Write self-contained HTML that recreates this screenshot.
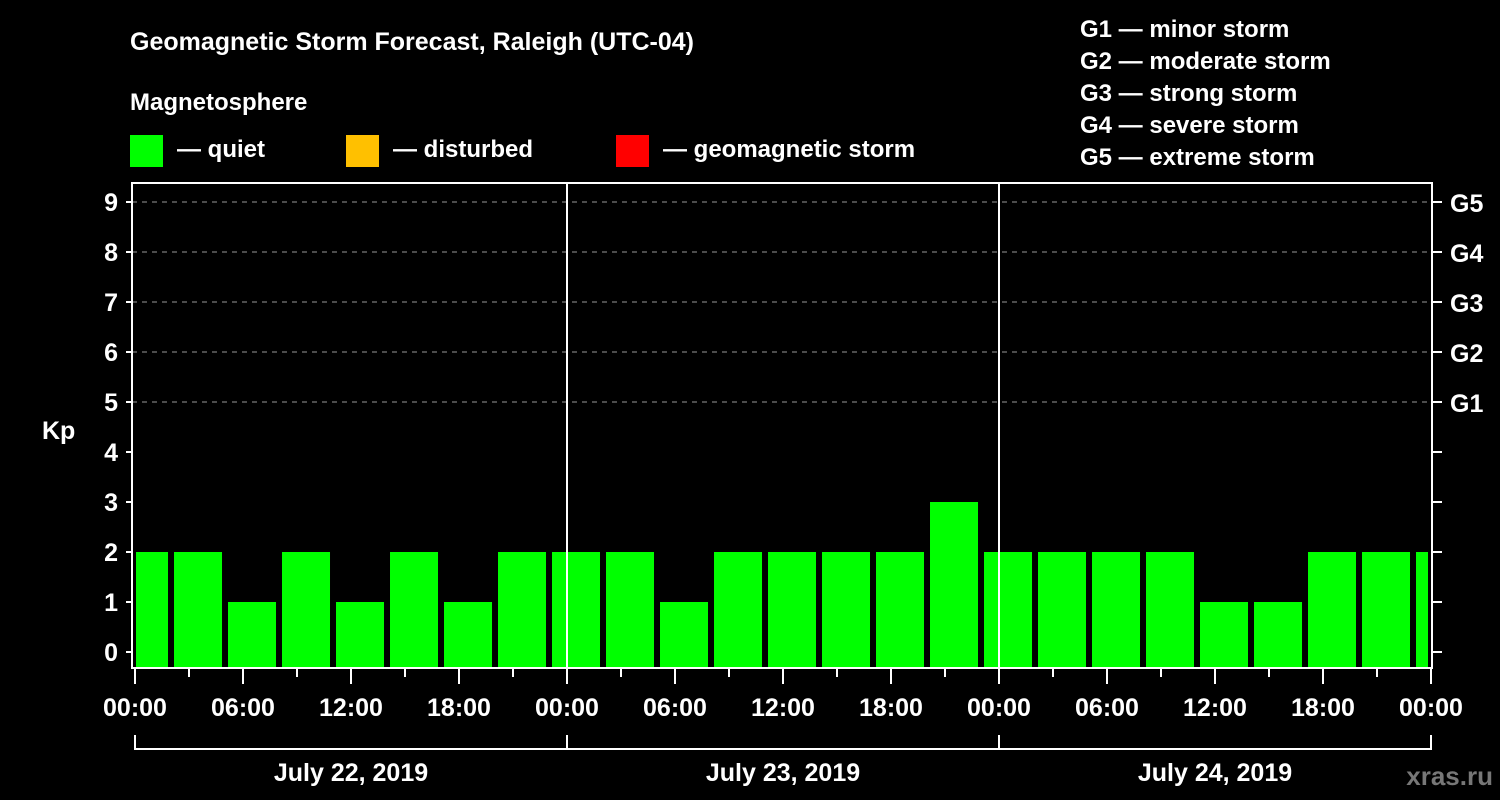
<!DOCTYPE html>
<html><head><meta charset="utf-8"><style>
html,body{margin:0;padding:0;background:#000;}
svg{display:block;font-family:"Liberation Sans",Arial,sans-serif;font-weight:bold;}
</style></head><body>
<svg width="1500" height="800" viewBox="0 0 1500 800">
<text x="130" y="50" fill="#fff" font-size="25">Geomagnetic Storm Forecast, Raleigh (UTC-04)</text>
<text x="130" y="110" fill="#fff" font-size="24">Magnetosphere</text>
<g><rect x="130" y="135" width="33" height="32" fill="#00ff00"/><text x="177" y="157" fill="#fff" font-size="24">— quiet</text></g>
<g><rect x="346" y="135" width="33" height="32" fill="#ffc000"/><text x="393" y="157" fill="#fff" font-size="24">— disturbed</text></g>
<g><rect x="616" y="135" width="33" height="32" fill="#ff0000"/><text x="663" y="157" fill="#fff" font-size="24">— geomagnetic storm</text></g>
<g fill="#fff" font-size="24">
<text x="1080" y="37">G1 — minor storm</text>
<text x="1080" y="69">G2 — moderate storm</text>
<text x="1080" y="101">G3 — strong storm</text>
<text x="1080" y="133">G4 — severe storm</text>
<text x="1080" y="165">G5 — extreme storm</text>
</g>
<text x="42" y="439" fill="#fff" font-size="25">Kp</text>
<text x="1493" y="785" fill="#777" font-size="26" text-anchor="end">xras.ru</text>
<g id="grid"></g>
<g id="bars"></g>
<g id="axes"></g>
</svg>
<script>
const kpValues=[2,2,1,2,1,2,1,2,2,2,1,2,2,2,2,3,2,2,2,2,1,1,2,2,2];
const dayLabels=["July 22, 2019","July 23, 2019","July 24, 2019"];
const hourLabels=["00:00","06:00","12:00","18:00"];
const yTicks=[0,1,2,3,4,5,6,7,8,9];
const gLabels=["G1","G2","G3","G4","G5"];
const gLevels=[5,6,7,8,9];
const NS="http://www.w3.org/2000/svg";
const X0=135,PX_H=18,PL=132,PR=1432,PT=183,PB=668;
const offsetH=-0.833;
function xs(h){return X0+h*PX_H;}
function ys(v){return 652-v*50;}
function mk(tag,attrs,parent,txt){const e=document.createElementNS(NS,tag);for(const k in attrs)e.setAttribute(k,attrs[k]);if(txt!==undefined)e.textContent=txt;parent.appendChild(e);return e;}
const grid=document.getElementById('grid'),bars=document.getElementById('bars'),axes=document.getElementById('axes');
gLevels.forEach((lv,i)=>{
 const l=mk('line',{x1:PL,x2:PR,y1:ys(lv),y2:ys(lv),stroke:'#999','stroke-width':1,'stroke-dasharray':'5,5'},grid);
 
 
 const t=mk('text',{x:1450,y:ys(lv)+10,fill:'#fff','font-size':25},axes,gLabels[i]);
 
 
});
kpValues.forEach((v,k)=>{
 let x1=xs(k*3+offsetH),x2=xs(k*3+offsetH+2.667);
 x1=Math.max(x1,PL+4);x2=Math.min(x2,PR-4);
 const col=v>=5?'#ff0000':(v>=4?'#ffc000':'#00ff00');
 const r=mk('rect',{x:x1,y:ys(v),width:x2-x1,height:PB-ys(v),fill:col},bars);
 
 
});
// day separators
[1,2].forEach(d=>{
 const l=mk('line',{x1:xs(d*24),x2:xs(d*24),y1:PT,y2:PB,stroke:'#fff','stroke-width':2},axes);
 
 
});
const fr=mk('rect',{x:PL,y:PT,width:PR-PL,height:PB-PT,fill:'none',stroke:'#fff','stroke-width':2},axes);


yTicks.forEach(v=>{
 mk('line',{x1:PL-6,x2:PL,y1:ys(v),y2:ys(v),stroke:'#fff','stroke-width':2},axes);
 mk('line',{x1:PR,x2:PR+10,y1:ys(v),y2:ys(v),stroke:'#fff','stroke-width':2},axes);
 const t=mk('text',{x:PL-14,y:ys(v)+9,fill:'#fff','font-size':25,'text-anchor':'end'},axes,String(v));
 
 
});
for(let h=0;h<=72;h+=3){
 const major=h%6===0;
 mk('line',{x1:xs(h),x2:xs(h),y1:PB,y2:PB+(major?16:9),stroke:'#fff','stroke-width':2},axes);
 if(major){
  const t=mk('text',{x:xs(h),y:716,fill:'#fff','font-size':25,'text-anchor':'middle'},axes,hourLabels[(h/6)%4]);
  
  
 }
}
dayLabels.forEach((d,i)=>{
 const a=xs(i*24),b=xs((i+1)*24);
 mk('path',{d:`M${a},735 V749 H${b} V735`,fill:'none',stroke:'#fff','stroke-width':2},axes);
 const t=mk('text',{x:(a+b)/2,y:781,fill:'#fff','font-size':25,'text-anchor':'middle'},axes,d);
 
 
});
</script>
</body></html>
